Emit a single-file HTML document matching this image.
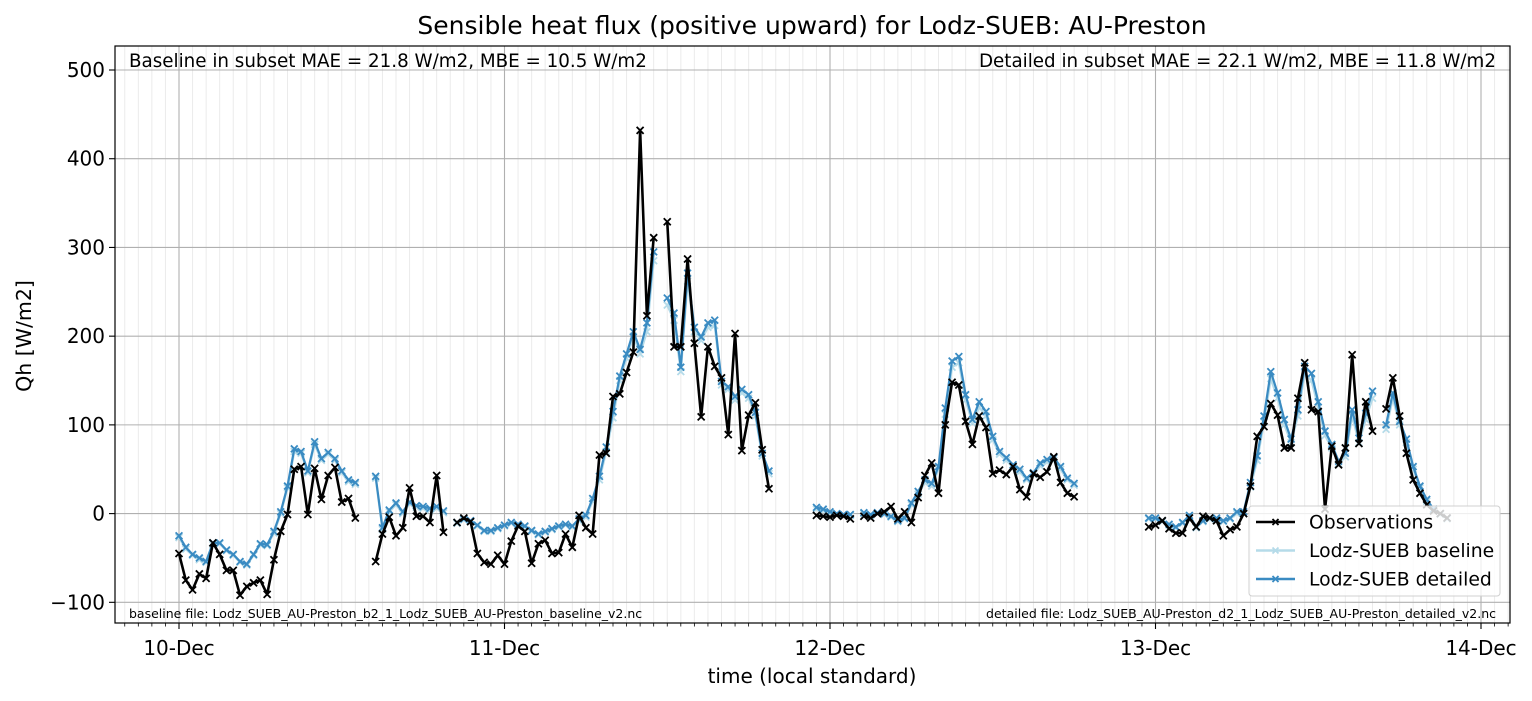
<!DOCTYPE html>
<html><head><meta charset="utf-8"><style>
html,body{margin:0;padding:0;background:#fff;}
svg{display:block;font-family:"DejaVu Sans","Liberation Sans",sans-serif;}
</style></head><body>
<svg id="chart" width="1532" height="701" viewBox="0 0 1532 701" xmlns="http://www.w3.org/2000/svg">
<g id="grid"></g>
<g id="series"></g>
<g id="axes"></g>
</svg>
<script>
const dayLabels = ["10-Dec","11-Dec","12-Dec","13-Dec","14-Dec"];
const yTicks = [-100,0,100,200,300,400,500];
const obsValues = [-45,-75,-86,-68,-73,-33,-46,-64,-64,-92,-82,-78,-75,-91,-52,-20,-1,50,53,-1,51,16,43,52,13,17,-5,
null,null,
-54,-23,-4,-25,-16,29,-3,-3,-10,43,-21,
null,
-10,-5,-9,-45,-55,-57,-47,-57,-31,-14,-20,-56,-34,-30,-45,-44,-23,-38,-2,-16,-23,
66,68,132,135,159,182,432,223,311,null,329,188,188,287,192,109,188,166,153,89,203,71,111,125,72,28,
null,null,null,null,null,null,
-2,-3,-4,-2,-3,-6,null,-3,-5,0,2,8,-6,2,-10,18,43,57,23,100,148,145,104,78,110,97,45,49,44,53,27,19,45,41,47,64,35,23,19,
null,null,null,null,null,null,null,null,null,null,
-15,-13,-8,-17,-22,-22,-5,-15,-3,-5,-8,-25,-18,-15,0,31,87,98,124,111,74,74,130,170,117,115,5,76,55,74,179,79,126,93,null,118,153,110,68,38,23,10,3,0,-5];
const detailedValues = [-25,-38,-46,-50,-54,-33,-33,-41,-46,-54,-57,-46,-34,-35,-20,2,31,73,70,48,81,62,69,62,48,38,35,
null,null,
42,-16,4,12,2,13,9,8,6,8,3,
null,
-10,-6,-8,-13,-19,-19,-16,-13,-10,-12,-14,-19,-23,-20,-17,-14,-12,-14,-6,-2,17,
42,75,115,155,180,205,185,215,295,null,243,226,165,271,210,199,215,218,149,143,132,140,134,114,68,48,
null,null,null,null,null,null,
7,5,2,0,-1,-1,null,1,-1,1,0,-3,-8,-5,12,25,38,34,53,119,172,177,134,106,126,115,87,70,63,55,50,40,46,57,61,63,53,40,34,
null,null,null,null,null,null,null,null,null,null,
-5,-5,-8,-12,-15,-10,-2,-15,-8,-5,-5,-8,-5,2,2,35,65,110,160,136,106,84,117,166,158,126,93,78,59,68,117,85,113,138,null,100,136,104,84,53,31,16,5,0,-5];
const baselineValues = [-27,-40,-47,-52,-55,-35,-34,-42,-47,-55,-58,-47,-35,-36,-22,0,29,70,68,46,78,60,67,60,46,36,33,
null,null,
40,-18,2,10,0,11,7,6,4,6,1,
null,
-11,-7,-9,-14,-20,-20,-17,-14,-11,-13,-15,-20,-24,-21,-18,-15,-13,-15,-8,-4,14,
38,70,108,150,175,200,180,205,285,null,235,218,160,262,205,195,210,212,145,140,128,136,130,110,65,45,
null,null,null,null,null,null,
5,3,1,-1,-2,-2,null,0,-2,0,-1,-4,-9,-6,10,22,35,31,50,112,165,170,128,102,120,110,83,67,60,52,47,38,44,54,58,60,50,38,32,
null,null,null,null,null,null,null,null,null,null,
-6,-6,-9,-13,-16,-11,-3,-16,-9,-6,-6,-9,-6,0,0,30,60,103,152,130,100,80,110,158,150,120,88,74,56,64,110,80,106,130,null,95,130,100,80,50,29,14,4,-1,-6];
const maeText = ["Baseline in subset MAE = 21.8 W/m2, MBE = 10.5 W/m2","Detailed in subset MAE = 22.1 W/m2, MBE = 11.8 W/m2"];

const NS="http://www.w3.org/2000/svg";
const L=115,R=1510,T=46,B=623;
const day0X=179, dayW=325.5;
const stepsPerDay=48;
function xOf(i){return day0X + i/stepsPerDay*dayW;}
function xDay(d){return day0X + d*dayW;}
const y0=513.6, yk=0.8872;
function yOf(v){return y0 - v*yk;}
function mk(tag,attrs,parent){const e=document.createElementNS(NS,tag);for(const k in attrs)e.setAttribute(k,attrs[k]);parent.appendChild(e);return e;}
const grid=document.getElementById('grid'), series=document.getElementById('series'), axes=document.getElementById('axes');

for(let h=-4;h<=24*4+2;h++){
  const x=xDay(h/24);
  if(x<=L||x>=R)continue;
  if(h%24===0)continue;
  const ln=mk('line',{x1:x,x2:x,y1:T,y2:B,stroke:'#ebebeb','stroke-width':1},grid);
  
  
  const tk=mk('line',{x1:x,x2:x,y1:B,y2:B+3.5,stroke:'#000','stroke-width':0.8},axes);
  
  
}
dayLabels.forEach((lab,d)=>{
  const x=xDay(d);
  const g=mk('line',{x1:x,x2:x,y1:T,y2:B,stroke:'#b0b0b0','stroke-width':1.1},grid);
  
  
  const tk=mk('line',{x1:x,x2:x,y1:B,y2:B+6,stroke:'#000','stroke-width':1.1},axes);
  
  
  const t=mk('text',{x:x,y:B+32,'text-anchor':'middle','font-size':20,fill:'#000'},axes);
  t.textContent=lab;
  
  
});
yTicks.forEach(v=>{
  const y=yOf(v);
  const g=mk('line',{x1:L,x2:R,y1:y,y2:y,stroke:'#b0b0b0','stroke-width':1.1},grid);
  
  
  const tk=mk('line',{x1:L-6,x2:L,y1:y,y2:y,stroke:'#000','stroke-width':1.1},axes);
  
  
  const t=mk('text',{x:L-10,y:y+7,'text-anchor':'end','font-size':20,fill:'#000'},axes);
  t.textContent=(v<0?'\u2212'+Math.abs(v):String(v));
  
  
});

function drawSeries(vals,color,width,name,msize){
  const g=mk('g',{},series);
  
  
  let d='';let pen=false;
  vals.forEach((v,i)=>{
    if(v===null){pen=false;return;}
    d+=(pen?'L':'M')+xOf(i).toFixed(2)+','+yOf(v).toFixed(2);pen=true;
  });
  mk('path',{d:d,fill:'none',stroke:color,'stroke-width':width,'stroke-linejoin':'round'},g);
  vals.forEach((v,i)=>{
    if(v===null)return;
    const x=xOf(i),y=yOf(v),s=msize;
    const m=mk('path',{d:`M${x-s},${y-s}L${x+s},${y+s}M${x-s},${y+s}L${x+s},${y-s}`,stroke:color,'stroke-width':1.8},g);
    
    
  });
}
drawSeries(baselineValues,'#b5dbe9',2.2,'baseline-series',3.4);
drawSeries(detailedValues,'#3a8bc2',2.2,'detailed-series',3.4);
drawSeries(obsValues,'#000000',2.6,'observations-series',3.5);

let a=mk('text',{x:129,y:67,'font-size':18.3,fill:'#000'},axes);a.textContent=maeText[0];


a=mk('text',{x:1496,y:67,'text-anchor':'end','font-size':18.3,fill:'#000'},axes);a.textContent=maeText[1];


a=mk('text',{x:129,y:618,'font-size':12.5,fill:'#000'},axes);a.textContent='baseline file: Lodz_SUEB_AU-Preston_b2_1_Lodz_SUEB_AU-Preston_baseline_v2.nc';


a=mk('text',{x:1496,y:618,'text-anchor':'end','font-size':12.5,fill:'#000'},axes);a.textContent='detailed file: Lodz_SUEB_AU-Preston_d2_1_Lodz_SUEB_AU-Preston_detailed_v2.nc';



const lg=mk('g',{},axes);


mk('rect',{x:1249,y:506,width:251,height:90,rx:3,fill:'#fff','fill-opacity':0.8,stroke:'#d0d0d0','stroke-width':1},lg);
[['Observations','#000'],['Lodz-SUEB baseline','#b5dbe9'],['Lodz-SUEB detailed','#3a8bc2']].forEach((e,k)=>{
  const y=522+k*28.5;
  const ge=mk('g',{},lg);
  
  
  mk('line',{x1:1256,x2:1295,y1:y,y2:y,stroke:e[1],'stroke-width':2.4},ge);
  mk('path',{d:`M${1275.5-3},${y-3}L${1275.5+3},${y+3}M${1275.5-3},${y+3}L${1275.5+3},${y-3}`,stroke:e[1],'stroke-width':1.8},ge);
  const t=mk('text',{x:1309,y:y+6.5,'font-size':18.8,fill:'#000'},ge);t.textContent=e[0];
});

const sp=mk('rect',{x:L,y:T,width:R-L,height:B-T,fill:'none',stroke:'#000','stroke-width':1.2},axes);



let t=mk('text',{x:812,y:34,'text-anchor':'middle','font-size':25,fill:'#000'},axes);t.textContent='Sensible heat flux (positive upward) for Lodz-SUEB: AU-Preston';


t=mk('text',{x:812,y:683,'text-anchor':'middle','font-size':20,fill:'#000'},axes);t.textContent='time (local standard)';


t=mk('text',{x:0,y:0,'text-anchor':'middle','font-size':20.5,fill:'#000',transform:'translate(31,336) rotate(-90)'},axes);t.textContent='Qh [W/m2]';


</script>
</body></html>
